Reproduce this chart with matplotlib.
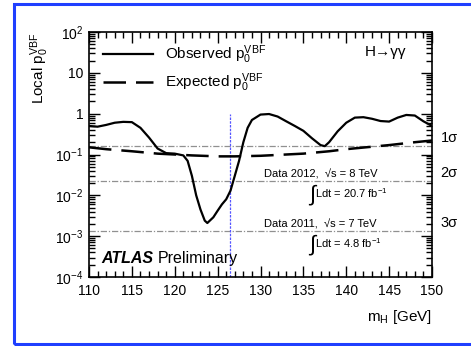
import matplotlib.pyplot as plt
import numpy as np
from matplotlib.patches import Rectangle
from matplotlib.ticker import FixedLocator, FixedFormatter, MultipleLocator, LogLocator, NullFormatter

plt.rcParams['font.family'] = ['Liberation Sans', 'DejaVu Sans']
plt.rcParams['mathtext.fontset'] = 'custom'
plt.rcParams['mathtext.rm'] = 'Liberation Sans'
plt.rcParams['mathtext.it'] = 'Liberation Sans:italic'

# observed local p0 (VBF)
obs_mass = [110, 111, 112, 113, 114, 115, 116, 117, 118, 119, 120, 121, 121.5,
            122, 122.5, 123, 123.5, 123.8, 124.5, 125, 125.5, 126, 126.5, 127,
            127.5, 128, 128.5, 129, 130, 131, 132, 133, 134, 135, 136, 137,
            137.5, 138, 139, 140, 141, 142, 143, 144, 145, 146, 147, 148, 149, 150]
obs_p0 = [0.5, 0.48, 0.53, 0.6, 0.63, 0.62, 0.45, 0.26, 0.14, 0.108, 0.105, 0.095, 0.07,
          0.03, 0.01, 0.0045, 0.0024, 0.0021, 0.0029, 0.0042, 0.006, 0.008, 0.013, 0.03,
          0.07, 0.2, 0.45, 0.7, 0.95, 0.98, 0.85, 0.65, 0.5, 0.38, 0.25, 0.17,
          0.16, 0.2, 0.37, 0.6, 0.8, 0.82, 0.75, 0.66, 0.64, 0.8, 0.93, 0.9, 0.65, 0.5]

# expected local p0 (VBF)
exp_mass = [110, 112, 115, 118, 120, 122, 125, 127, 130, 133, 135, 138, 140, 143, 145, 148, 150]
exp_p0 = [0.15, 0.135, 0.12, 0.105, 0.1, 0.095, 0.09, 0.09, 0.093, 0.1, 0.105, 0.12, 0.135, 0.155, 0.17, 0.2, 0.22]

sigma_p = [0.1587, 0.02275, 0.00135]
sigma_lbl = ['1σ', '2σ', '3σ']
best_mass = 126.5

fig = plt.figure(figsize=(4.71, 3.46), dpi=100)
fig.patches.append(Rectangle((14 / 471, 2 / 346), 1.2, 340 / 346, transform=fig.transFigure,
                             fill=False, edgecolor='#1f3fff', linewidth=2.2, zorder=-1))
ax = fig.add_axes([89 / 471, 69 / 346, 343 / 471, 245 / 346])

for p in sigma_p:
    ax.axhline(p, color='#909090', linestyle='-.', linewidth=0.9, dashes=(5, 1.5, 1, 1.5))
ax.plot([best_mass, best_mass], [1e-4, 1], color='#5555ff', linewidth=0.9, linestyle=(0, (2, 1)))

ax.plot(exp_mass, exp_p0, color='black', linewidth=1.8, dashes=(9, 4), label=r'Expected $\mathregular{p_0^{VBF}}$')
ax.plot(obs_mass, obs_p0, color='black', linewidth=1.6, label=r'Observed $\mathregular{p_0^{VBF}}$')

ax.set_yscale('log')
ax.set_xlim(110, 150)
ax.set_ylim(1e-4, 1e2)

ax.xaxis.set_major_locator(MultipleLocator(5))
ax.xaxis.set_minor_locator(MultipleLocator(1))
ax.yaxis.set_major_locator(FixedLocator([1e-4, 1e-3, 1e-2, 1e-1, 1, 10, 100]))
ax.yaxis.set_major_formatter(FixedFormatter([r'$\mathregular{10^{-4}}$', r'$\mathregular{10^{-3}}$',
                                             r'$\mathregular{10^{-2}}$', r'$\mathregular{10^{-1}}$',
                                             '1', '10', r'$\mathregular{10^{2}}$']))
ax.yaxis.set_minor_locator(LogLocator(base=10, subs=np.arange(2, 10), numticks=20))
ax.yaxis.set_minor_formatter(NullFormatter())
ax.tick_params(which='both', direction='in', top=True, right=True, labelsize=10, width=1.0)
ax.tick_params(which='major', length=8)
ax.tick_params(which='minor', length=4)
ax.tick_params(axis='x', which='major', pad=5)
ax.tick_params(axis='y', which='major', pad=4)
for s in ax.spines.values():
    s.set_linewidth(1.2)

ax.set_ylabel(r'Local $\mathregular{p_0^{VBF}}$', fontsize=11, loc='top')
ax.yaxis.set_label_coords(-0.11, 1.0)
ax.set_xlabel(r'$\mathregular{m_H}$ [GeV]', fontsize=11, loc='right')
ax.xaxis.set_label_coords(1.0, -0.125)

h, l = ax.get_legend_handles_labels()
ax.legend(h[::-1], l[::-1], loc='upper left', frameon=False, fontsize=11, handlelength=3.3,
          bbox_to_anchor=(0.0, 1.01), labelspacing=0.35, handletextpad=0.8)

ax.text(0.925, 0.92, 'H→γγ', transform=ax.transAxes, ha='right', va='center', fontsize=11)
ax.text(0.035, 0.075, 'ATLAS', transform=ax.transAxes, fontsize=11.5, fontweight='bold',
        fontstyle='italic', ha='left', va='center')
ax.text(0.2, 0.075, 'Preliminary', transform=ax.transAxes, fontsize=11.5, ha='left', va='center')

for p, lbl in zip(sigma_p, sigma_lbl):
    ax.text(151.0, p * 1.05, lbl, ha='left', va='bottom', fontsize=10.5, clip_on=False)

ax.text(137.0, sigma_p[1] * 1.08, 'Data 2012,  √s = 8 TeV', ha='center', va='bottom', fontsize=8)
ax.text(136.0, sigma_p[1] * 0.45, '∫', ha='center', va='center', fontsize=16)
ax.text(136.4, sigma_p[1] * 0.5, r'Ldt = 20.7 fb$\mathregular{^{-1}}$', ha='left', va='center', fontsize=8)
ax.text(137.0, sigma_p[2] * 1.08, 'Data 2011,  √s = 7 TeV', ha='center', va='bottom', fontsize=8)
ax.text(136.0, sigma_p[2] * 0.45, '∫', ha='center', va='center', fontsize=16)
ax.text(136.4, sigma_p[2] * 0.5, r'Ldt = 4.8 fb$\mathregular{^{-1}}$', ha='left', va='center', fontsize=8)

fig.savefig('out.png', dpi=100)
